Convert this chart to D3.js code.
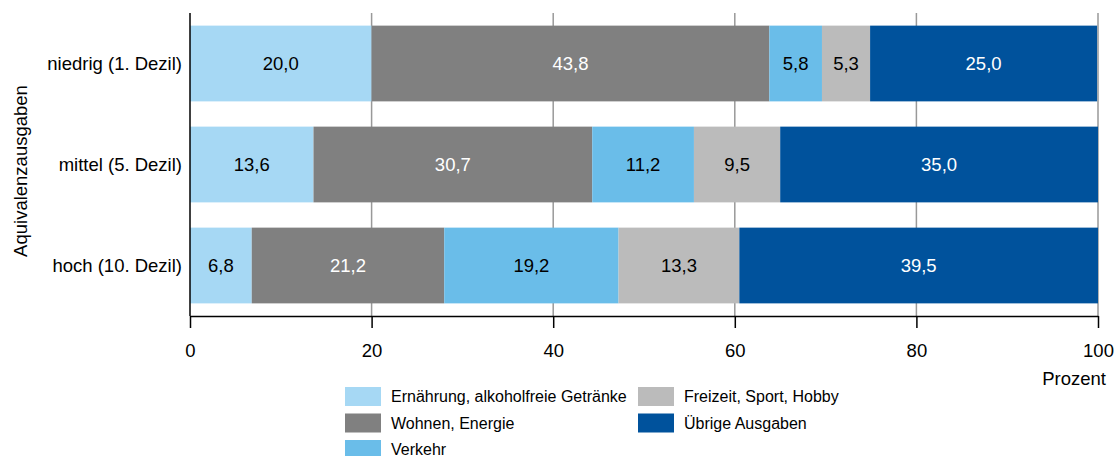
<!DOCTYPE html>
<html><head><meta charset="utf-8">
<script src="https://cdn.jsdelivr.net/npm/d3@7"></script>
<style>body{margin:0;background:#fff;} text{font-family:"Liberation Sans",Arial,sans-serif;}</style>
</head><body>
<svg id="c" width="1116" height="456"></svg>
<script>
const categories = ["niedrig (1. Dezil)", "mittel (5. Dezil)", "hoch (10. Dezil)"];
const seriesNames = ["Ernährung, alkoholfreie Getränke", "Wohnen, Energie", "Verkehr", "Freizeit, Sport, Hobby", "Übrige Ausgaben"];
const ernaehrung = [20.0, 13.6, 6.8];
const wohnen = [43.8, 30.7, 21.2];
const verkehr = [5.8, 11.2, 19.2];
const freizeit = [5.3, 9.5, 13.3];
const uebrige = [25.0, 35.0, 39.5];
const ticks = [0, 20, 40, 60, 80, 100];
const colors = ["#a6d8f4", "#808080", "#6abde9", "#bbbbbb", "#00529c"];
const textColors = ["#000", "#fff", "#000", "#000", "#fff"];

const FS = 18.5;
const series = [ernaehrung, wohnen, verkehr, freizeit, uebrige];
const svg = d3.select("#c");
const x = d3.scaleLinear().domain([0, 100]).range([190, 1098]);
const y = d3.scaleBand().domain(categories).range([13, 316]).paddingInner(0.25).paddingOuter(0.125);

// gridlines
svg.append("g").selectAll("line").data(ticks.filter(t => t > 0)).join("line")
  .attr("x1", d => x(d)).attr("x2", d => x(d)).attr("y1", 13).attr("y2", 316)
  .attr("stroke", "#999").attr("stroke-width", 1.5);

// bars
const rows = categories.map((c, i) => {
  let acc = 0;
  return series.map((s, k) => { const v = s[i]; const r = {cat: c, k, v, x0: acc, x1: acc + v}; acc += v; return r; });
}).flat();

svg.append("g").selectAll("rect").data(rows).join("rect")
  .attr("x", d => x(d.x0)).attr("width", d => x(d.x1) - x(d.x0))
  .attr("y", d => y(d.cat)).attr("height", y.bandwidth())
  .attr("fill", d => colors[d.k]);

svg.append("g").selectAll("text").data(rows).join("text")
  .attr("x", d => (x(d.x0) + x(d.x1)) / 2).attr("y", d => y(d.cat) + y.bandwidth() / 2)
  .attr("dy", "0.35em").attr("text-anchor", "middle").attr("font-size", FS)
  .attr("fill", d => textColors[d.k])
  .text(d => d3.format(".1f")(d.v).replace(".", ","));

// x axis
const xAxis = d3.axisBottom(x).tickValues(ticks).tickSize(12).tickSizeOuter(0).tickPadding(16);
const gx = svg.append("g").attr("transform", "translate(0,316)").call(xAxis);
gx.select(".domain").attr("stroke", "#000").attr("stroke-width", 1.5);
gx.selectAll(".tick line").attr("stroke", "#000").attr("stroke-width", 1.5);
gx.selectAll(".tick text").attr("font-size", FS).attr("fill", "#000");

// zero line
svg.append("line").attr("x1", x(0)).attr("x2", x(0)).attr("y1", 13).attr("y2", 316)
  .attr("stroke", "#000").attr("stroke-width", 1.5);

// category labels
svg.append("g").selectAll("text").data(categories).join("text")
  .attr("x", 182).attr("y", d => y(d) + y.bandwidth() / 2).attr("dy", "0.35em")
  .attr("text-anchor", "end").attr("font-size", FS).attr("fill", "#000").text(d => d);

// y title
svg.append("text").attr("transform", "translate(27,171) rotate(-90)")
  .attr("text-anchor", "middle").attr("font-size", FS).attr("fill", "#000").text("Aquivalenzausgaben");

// x unit
svg.append("text").attr("x", 1106).attr("y", 385).attr("text-anchor", "end")
  .attr("font-size", FS).attr("fill", "#000").text("Prozent");

// legend
const legPos = [[345, 387], [345, 413.5], [345, 440], [638, 387], [638, 413.5]];
const lg = svg.append("g").selectAll("g").data(seriesNames).join("g")
  .attr("transform", (d, i) => `translate(${legPos[i][0]},${legPos[i][1]})`);
lg.append("rect").attr("width", 36).attr("height", 19).attr("fill", (d, i) => colors[i]);
lg.append("text").attr("x", 46).attr("y", 9.5).attr("dy", "0.35em").attr("font-size", 16)
  .attr("fill", "#000").text(d => d);
</script>
</body></html>
